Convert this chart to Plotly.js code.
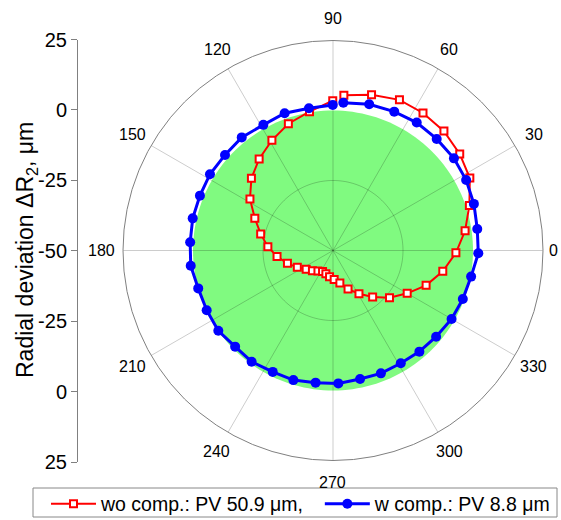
<!DOCTYPE html>
<html>
<head>
<meta charset="utf-8">
<script src="https://cdn.plot.ly/plotly-3.0.1.min.js"></script>
<style>html,body{margin:0;padding:0;background:#fff;}</style>
</head>
<body>
<div id="chart" style="width:561px;height:520px;"></div>
<script>
// Marker angles (degrees)
const thetaDeg = [90.1, 99.6, 109.4, 119.0, 128.9, 138.5, 148.2, 157.6, 167.1, 176.7,
  186.1, 195.7, 205.3, 215.0, 224.5, 233.8, 243.6, 253.0, 262.5, 272.3,
  281.9, 291.3, 301.0, 310.5, 320.1, 330.0, 339.5, 349.3, 358.9, 8.5,
  18.3, 27.9, 37.3, 47.1, 56.8, 66.2, 76.1, 86.0];
// Radial deviation, µm — without compensation
const woComp = [3.5, 0.3, -2.0, -5.0, -8.0, -11.1, -15.1, -19.8, -23.5, -26.7,
  -29.9, -33.1, -35.9, -38.3, -39.7, -40.9, -41.6, -41.3, -40.5, -39.6,
  -38.1, -35.2, -32.0, -28.2, -23.7, -19.4, -14.5, -10.1, -6.1, -2.3,
  1.3, 5.3, 6.9, 8.2, 8.7, 8.8, 7.3, 5.6];
// Radial deviation, µm — with compensation
const wComp = [2.0, 1.5, 2.0, 1.3, 1.9, 1.5, 1.7, 1.4, 1.4, 1.1,
  1.1, 0.0, -0.1, 0.0, -1.0, -0.8, -1.6, -1.6, -2.4, -2.5,
  -3.1, -2.9, -3.0, -2.5, -2.0, -1.1, -0.5, 0.2, 1.9, 2.1,
  3.0, 3.8, 4.3, 4.4, 4.6, 4.2, 3.8, 2.9];
const seriesNames = ['wo comp.: PV 50.9 \u03bcm,', 'w comp.: PV 8.8 \u03bcm'];
// Tolerance zone radius and axis settings
const toleranceR = 0;
const radialRange = [-50, 25];
const radialGridVals = [-25];
const angleTicks = [0, 30, 60, 90, 120, 150, 180, 210, 240, 270, 300, 330];
const angleTickText = ['0', '30', '60', '90', '120', '150', '180', '210', '240', '270', '300', '330'];
const leftTickVals = [75, 50, 25, 0, -25, -50, -75];
const leftTickText = ['25', '0', '-25', '-50', '-25', '0', '25'];

const FONT = 'Arial, "Liberation Sans", sans-serif';
const gridColor = 'rgba(0,0,0,0.2)';

function fullCircle(rVal) {
  const th = [], rr = [];
  for (let a = 0; a <= 360; a += 2) { th.push(a); rr.push(rVal); }
  return {th, rr};
}

const traces = [];
// green tolerance zone
const zone = fullCircle(toleranceR);
traces.push({type: 'scatterpolar', mode: 'lines', theta: zone.th, r: zone.rr,
  fill: 'toself', fillcolor: 'rgb(128,250,128)', line: {width: 0, color: 'rgb(128,250,128)'},
  showlegend: false, hoverinfo: 'skip'});
// grid spokes and circles drawn over the zone
angleTicks.forEach(a => {
  traces.push({type: 'scatterpolar', mode: 'lines', theta: [a, a], r: [radialRange[0], radialRange[1]],
    line: {color: gridColor, width: 1}, showlegend: false, hoverinfo: 'skip'});
});
radialGridVals.forEach(v => {
  const c = fullCircle(v);
  traces.push({type: 'scatterpolar', mode: 'lines', theta: c.th, r: c.rr,
    line: {color: gridColor, width: 1}, showlegend: false, hoverinfo: 'skip'});
});
// data (trailing non-breaking spaces only widen the gap between legend entries)
traces.push({type: 'scatterpolar', mode: 'lines+markers', name: seriesNames[0] + '\u00a0\u00a0',
  theta: thetaDeg, r: woComp,
  line: {color: '#ff0000', width: 2},
  marker: {symbol: 'square', size: 7, color: '#ffffff', line: {color: '#ff0000', width: 2}}});
traces.push({type: 'scatterpolar', mode: 'lines+markers', name: seriesNames[1],
  theta: thetaDeg, r: wComp,
  line: {color: '#0000ff', width: 3},
  marker: {symbol: 'circle', size: 10, color: '#0000ff'}});
// dummy trace to carry the left linear axis
traces.push({type: 'scatter', x: [null], y: [null], xaxis: 'x', yaxis: 'y',
  showlegend: false, hoverinfo: 'skip'});

const W = 561, H = 520;
const cx = 333, cy = 250.5, R = 210;
// angular labels as text placed around the circle
const labelRadius = 232;
const annotations = angleTicks.map((a, i) => {
  const rl = a === 0 ? 220 : labelRadius;
  const rad = a * Math.PI / 180;
  return {text: angleTickText[i], xref: 'paper', yref: 'paper',
    x: (cx + rl * Math.cos(rad)) / W, y: (H - (cy - rl * Math.sin(rad))) / H,
    xanchor: 'center', yanchor: 'middle', showarrow: false,
    font: {family: FONT, size: 16, color: '#000'}};
});
annotations.push({text: 'Radial deviation \u0394R<sub>2</sub>, \u03bcm', textangle: -90,
  xref: 'paper', yref: 'paper', x: 27 / W, y: (H - 250) / H, xanchor: 'center', yanchor: 'middle',
  showarrow: false, font: {family: FONT, size: 23, color: '#000'}});

const layout = {
  width: W, height: H,
  margin: {l: 0, r: 0, t: 0, b: 0, autoexpand: false},
  paper_bgcolor: '#ffffff', plot_bgcolor: 'rgba(0,0,0,0)',
  font: {family: FONT, color: '#000'},
  showlegend: true,
  legend: {orientation: 'h', x: 46 / W, xanchor: 'left', y: (H - 504) / H, yanchor: 'middle',
    borderwidth: 0, bgcolor: 'rgba(0,0,0,0)',
    itemwidth: 45,
    font: {family: FONT, size: 19.5, color: '#000'}},
  shapes: [{type: 'rect', xref: 'paper', yref: 'paper', layer: 'above',
    x0: 33 / W, x1: 557 / W, y0: (H - 517) / H, y1: (H - 488) / H,
    line: {color: '#888', width: 1}, fillcolor: 'rgba(0,0,0,0)'}],
  polar: {
    domain: {x: [(cx - R) / W, (cx + R) / W], y: [(H - cy - R) / H, (H - cy + R) / H]},
    bgcolor: 'rgba(0,0,0,0)',
    radialaxis: {range: radialRange, showgrid: false, showline: false, showticklabels: false, ticks: ''},
    angularaxis: {rotation: 0, direction: 'counterclockwise', tickmode: 'array',
      tickvals: angleTicks, showticklabels: false,
      showgrid: false, showline: true, linecolor: '#808080', linewidth: 1, ticks: ''}
  },
  xaxis: {domain: [78 / W, 0.2], visible: false, range: [0, 1], fixedrange: true},
  yaxis: {domain: [(H - 462) / H, (H - 39.5) / H], range: [-75, 75], anchor: 'x',
    tickmode: 'array', tickvals: leftTickVals, ticktext: leftTickText,
    showline: true, linecolor: '#808080', linewidth: 1, ticks: 'outside', ticklen: 6,
    tickcolor: '#808080', showgrid: false, zeroline: false,
    tickfont: {family: FONT, size: 20, color: '#000'}},
  annotations: annotations
};

Plotly.newPlot('chart', traces, layout, {displayModeBar: false, staticPlot: true});
</script>
</body>
</html>
